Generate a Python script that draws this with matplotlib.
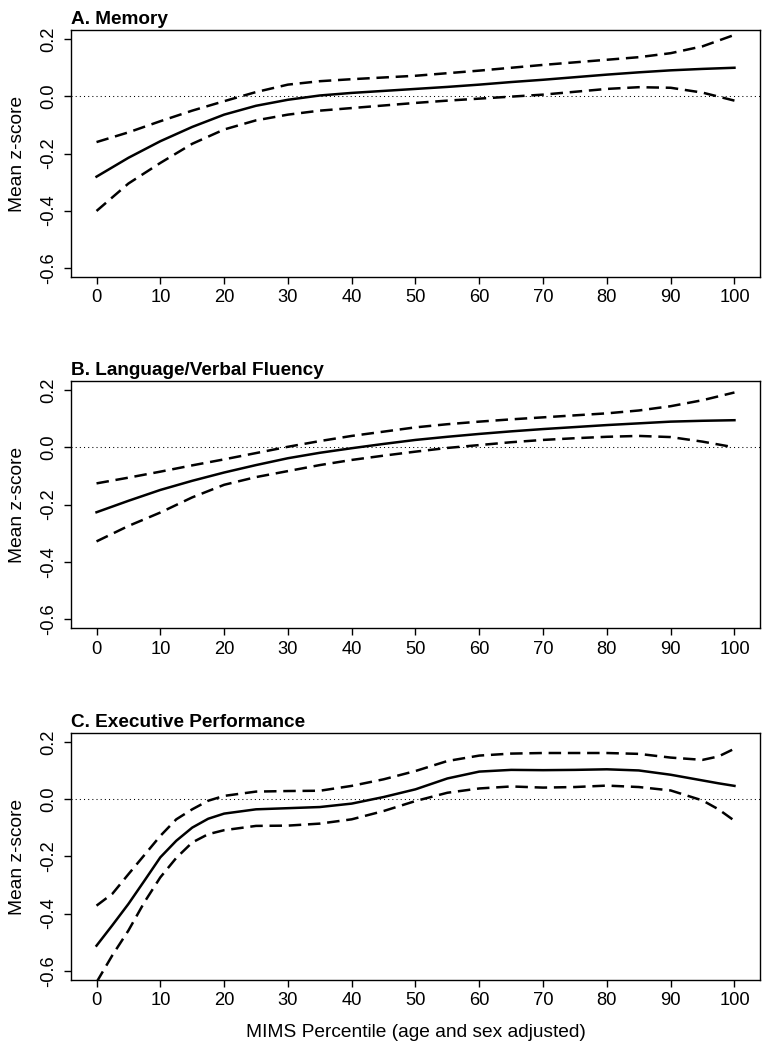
import matplotlib
matplotlib.use("Agg")
import matplotlib.pyplot as plt

plt.rcParams["font.family"] = ["Liberation Sans", "DejaVu Sans"]

# percentile grid used for panels A and B
pct = [0, 5, 10, 15, 20, 25, 30, 35, 40, 45, 50, 55, 60, 65, 70, 75, 80, 85, 90, 95, 100]

mem_fit = [-0.281, -0.215, -0.157, -0.107, -0.064, -0.033, -0.012, 0.003, 0.012, 0.019, 0.026,
           0.033, 0.041, 0.050, 0.058, 0.067, 0.076, 0.084, 0.091, 0.096, 0.100]
mem_hi = [-0.160, -0.126, -0.087, -0.050, -0.017, 0.015, 0.041, 0.053, 0.060, 0.066, 0.072,
          0.081, 0.090, 0.100, 0.110, 0.119, 0.128, 0.137, 0.151, 0.175, 0.215]
mem_lo = [-0.401, -0.305, -0.233, -0.166, -0.116, -0.084, -0.064, -0.050, -0.041, -0.032, -0.023,
          -0.015, -0.008, -0.001, 0.006, 0.016, 0.026, 0.032, 0.030, 0.013, -0.015]

lang_fit = [-0.227, -0.187, -0.149, -0.117, -0.088, -0.062, -0.038, -0.019, -0.003, 0.012, 0.026,
            0.037, 0.047, 0.056, 0.064, 0.071, 0.078, 0.084, 0.090, 0.093, 0.095]
lang_hi = [-0.126, -0.106, -0.085, -0.063, -0.042, -0.020, 0.002, 0.022, 0.040, 0.055, 0.070,
           0.081, 0.090, 0.098, 0.105, 0.112, 0.119, 0.129, 0.144, 0.165, 0.192]
lang_lo = [-0.329, -0.275, -0.228, -0.175, -0.131, -0.104, -0.083, -0.062, -0.044, -0.029, -0.015,
           -0.002, 0.008, 0.018, 0.026, 0.032, 0.037, 0.040, 0.036, 0.020, 0.000]

# panel C has a steeper start, so a few more points there
pct_c = [0, 2.5, 5, 7.5, 10, 12.5, 15, 17.5, 20, 25, 30, 35, 40, 45, 50, 55, 60, 65, 70, 75,
         80, 85, 90, 95, 97.5, 100]
exe_fit = [-0.512, -0.440, -0.366, -0.285, -0.203, -0.145, -0.099, -0.068, -0.050, -0.035, -0.031,
           -0.027, -0.015, 0.008, 0.035, 0.073, 0.097, 0.103, 0.102, 0.103, 0.105, 0.101, 0.086,
           0.066, 0.056, 0.047]
exe_hi = [-0.372, -0.330, -0.262, -0.195, -0.128, -0.070, -0.035, -0.005, 0.012, 0.027, 0.029,
          0.030, 0.047, 0.070, 0.099, 0.134, 0.153, 0.160, 0.162, 0.162, 0.162, 0.159, 0.146,
          0.138, 0.150, 0.177]
exe_lo = [-0.640, -0.545, -0.459, -0.360, -0.273, -0.205, -0.151, -0.122, -0.108, -0.093, -0.092,
          -0.085, -0.070, -0.041, -0.006, 0.023, 0.038, 0.045, 0.041, 0.043, 0.048, 0.043, 0.031,
          -0.004, -0.035, -0.075]

titles = ["A. Memory", "B. Language/Verbal Fluency", "C. Executive Performance"]
panels = [
    (pct, mem_fit, mem_hi, mem_lo),
    (pct, lang_fit, lang_hi, lang_lo),
    (pct_c, exe_fit, exe_hi, exe_lo),
]

x_ticks = list(range(0, 101, 10))
y_ticks = [-0.6, -0.4, -0.2, 0.0, 0.2]
y_tick_labels = ["-0.6", "-0.4", "-0.2", "0.0", "0.2"]

fig = plt.figure(figsize=(7.71, 10.5), dpi=100)

left, width, height = 0.0921, 0.8936, 0.2352
bottoms = [0.7362, 0.4019, 0.0667]

for i, (x, fit, hi, lo) in enumerate(panels):
    ax = fig.add_axes([left, bottoms[i], width, height])
    ax.axhline(0, color="black", lw=0.75, dashes=(1, 3))
    ax.plot(x, fit, color="black", lw=1.8)
    ax.plot(x, hi, color="black", lw=1.8, dashes=(5.0, 2.7))
    ax.plot(x, lo, color="black", lw=1.8, dashes=(5.0, 2.7))

    ax.set_xlim(-4, 104)
    ax.set_ylim(-0.632, 0.232)
    ax.set_xticks(x_ticks)
    ax.set_yticks(y_ticks)
    ax.set_yticklabels(y_tick_labels, rotation=90, va="center")
    ax.tick_params(direction="out", length=5, width=1.0, labelsize=13.2)
    ax.tick_params(axis="x", pad=4)
    ax.tick_params(axis="y", pad=5)
    for s in ax.spines.values():
        s.set_linewidth(1.0)

    ax.set_ylabel("Mean z-score", fontsize=13.8)
    ax.yaxis.set_label_coords(-0.066, 0.5)
    ax.set_title(titles[i], loc="left", fontweight="bold", fontsize=13.7, pad=4.5)

fig.text(left + width / 2, 0.0171, "MIMS Percentile (age and sex adjusted)",
         ha="center", va="center", fontsize=13.8)

fig.savefig("out.png", dpi=100)
